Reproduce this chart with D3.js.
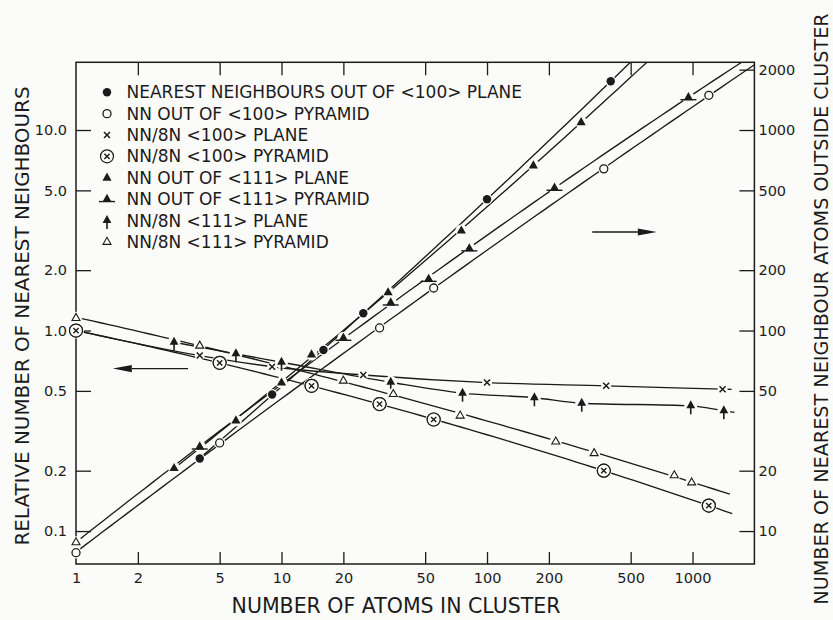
<!DOCTYPE html>
<html><head><meta charset="utf-8">
<script src="https://cdn.jsdelivr.net/npm/d3@7"></script>
<style>
html,body{margin:0;padding:0;background:#fbfbfa;}
svg{display:block;font-family:"DejaVu Sans",sans-serif;}
</style></head><body>
<svg id="chart" width="833" height="620"></svg>
<script>
// ---------- data ----------
const xTickValues = [1, 2, 5, 10, 20, 50, 100, 200, 500, 1000];
const leftTickValues = [0.1, 0.2, 0.5, 1, 2, 5, 10];
const rightTickValues = [10, 20, 50, 100, 200, 500, 1000, 2000];

// right axis: number of nearest-neighbour atoms outside cluster
const out100PlaneN = [4, 9, 16, 25, 100, 400];
const out100PlaneV = [23, 48, 80, 122, 452, 1750];
const out100PyrN   = [1, 5, 30, 55, 370, 1200];
const out100PyrV   = [7.8, 27.5, 103, 163, 640, 1490];
const out111PlaneN = [3, 6, 10, 14, 33, 75, 168, 287];
const out111PlaneV = [20.6, 35.6, 55, 76, 155, 315, 665, 1094];
const out111PyrN   = [1, 4, 20, 34, 52, 82, 213, 955];
const out111PyrV   = [8.8, 26.4, 92, 138, 181, 257, 515, 1458];
// left axis: relative number of nearest neighbours (NN/8N)
const rel100PlaneN = [1, 4, 9, 25, 100, 380, 1400];
const rel100PlaneV = [1.0, 0.75, 0.66, 0.60, 0.55, 0.53, 0.51];
const rel100PyrN   = [1, 5, 14, 30, 55, 370, 1200];
const rel100PyrV   = [1.0, 0.69, 0.53, 0.43, 0.36, 0.20, 0.134];
const rel111PlaneN = [3, 6, 10, 34, 76, 170, 289, 980, 1420];
const rel111PlaneV = [0.874, 0.765, 0.695, 0.552, 0.487, 0.462, 0.434, 0.421, 0.398];
const rel111PyrN   = [1, 4, 20, 35, 74, 216, 332, 815, 990];
const rel111PyrV   = [1.157, 0.842, 0.563, 0.483, 0.377, 0.28, 0.245, 0.19, 0.175];

// extent (in cluster size) over which each curve is drawn, and how it is traced
const lineStart = [4, 1, 1, 1, 3, 1, 3, 1];
const lineEnd   = [2000, 2000, 1550, 1560, 2000, 2000, 1600, 1520];
const lineFit   = ["quad", "quad", "mono", "quad", "quad", "quad", "mono", "quad"];

const labels = [
  "NEAREST NEIGHBOURS OUT OF <100> PLANE",
  "NN OUT OF <100> PYRAMID",
  "NN/8N <100> PLANE",
  "NN/8N <100> PYRAMID",
  "NN OUT OF <111> PLANE",
  "NN OUT OF <111> PYRAMID",
  "NN/8N <111> PLANE",
  "NN/8N <111> PYRAMID"
];
const markers = ["dot", "circle", "cross", "otimes", "tri", "triBar", "triStem", "triOpen"];
const axes = ["right", "right", "left", "left", "right", "right", "left", "left"];
const seriesN = [out100PlaneN, out100PyrN, rel100PlaneN, rel100PyrN, out111PlaneN, out111PyrN, rel111PlaneN, rel111PyrN];
const seriesV = [out100PlaneV, out100PyrV, rel100PlaneV, rel100PyrV, out111PlaneV, out111PyrV, rel111PlaneV, rel111PyrV];
// the first point of the <111> pyramid curve is drawn as an open triangle
const firstMarker = [null, null, null, null, null, "triOpen", null, null];

const leftArrow = {v: 0.646, from: 3.51, to: 1.51};
const rightArrow = {v: 3.1, from: 325, to: 670};

// ---------- layout ----------
const W = 833, H = 620;
const L = 76, R = 754.4, T = 62.3, B = 564;
const INK = "#1b1b1b", BG = "#fbfbfa";

const svg = d3.select("#chart");
svg.append("rect").attr("width", W).attr("height", H).attr("fill", BG);

const x = d3.scaleLog().domain([1, 2000]).range([L, R]);
const y = d3.scaleLog().domain([0.0685, 21.76]).range([B, T]);
const yR = d3.scaleLog().domain([6.85, 2176]).range([B, T]);

svg.append("clipPath").attr("id", "plotclip")
  .append("rect").attr("x", L).attr("y", T).attr("width", R - L).attr("height", B - T);

// ---------- axes ----------
const axFont = "14.5px";
const gB = svg.append("g").attr("transform", `translate(0,${B})`)
  .call(d3.axisBottom(x).tickValues(xTickValues).tickFormat(d3.format("d")).tickSize(-12).tickPadding(9));
const gT = svg.append("g").attr("transform", `translate(0,${T})`)
  .call(d3.axisTop(x).tickValues(xTickValues.slice(1)).tickFormat("").tickSize(-13));
const gL = svg.append("g").attr("transform", `translate(${L},0)`)
  .call(d3.axisLeft(y).tickValues(leftTickValues).tickFormat(d3.format(".1f")).tickSize(-15).tickPadding(9));
const gR = svg.append("g").attr("transform", `translate(${R},0)`)
  .call(d3.axisRight(yR).tickValues(rightTickValues).tickFormat(d3.format("d")).tickSize(-15).tickPadding(4));
[gB, gT, gL, gR].forEach(g => {
  g.select(".domain").remove();
  g.selectAll(".tick line").attr("stroke", INK).attr("stroke-width", 1.3);
  g.selectAll(".tick text").attr("fill", INK).style("font-size", axFont).style("font-family", "DejaVu Sans");
});
gB.selectAll(".tick").filter(d => d === 1).select("line").remove();

svg.append("rect").attr("x", L).attr("y", T).attr("width", R - L).attr("height", B - T)
  .attr("fill", "none").attr("stroke", INK).attr("stroke-width", 1.5);

// axis titles
svg.append("text").attr("x", 396).attr("y", 613).attr("text-anchor", "middle")
  .style("font-size", "20.5px").attr("fill", INK).text("NUMBER OF ATOMS IN CLUSTER");
svg.append("text").attr("transform", "translate(22,316) rotate(-90)").attr("text-anchor", "middle")
  .attr("dy", "0.35em").style("font-size", "19.9px").attr("fill", INK).text("RELATIVE NUMBER OF NEAREST NEIGHBOURS");
svg.append("text").attr("transform", "translate(821,309) rotate(-90)").attr("text-anchor", "middle")
  .attr("dy", "0.35em").style("font-size", "19.2px").attr("fill", INK).text("NUMBER OF NEAREST NEIGHBOUR ATOMS OUTSIDE CLUSTER");

// ---------- curves ----------
function extend(pts, a, b) {
  const out = pts.slice();
  if (a < pts[0].n) {
    const p0 = pts[0], p1 = pts[1];
    const s = Math.log(p1.v / p0.v) / Math.log(p1.n / p0.n);
    out.unshift({n: a, v: p0.v * Math.pow(a / p0.n, s)});
  }
  const k = pts.length;
  if (b > pts[k - 1].n) {
    const p0 = pts[k - 2], p1 = pts[k - 1];
    const s = Math.log(p1.v / p0.v) / Math.log(p1.n / p0.n);
    out.push({n: b, v: p1.v * Math.pow(b / p1.n, s)});
  }
  return out;
}
// least-squares quadratic in log-log space
function quadFit(pts) {
  const X = pts.map(p => Math.log10(p.n)), Y = pts.map(p => Math.log10(p.v));
  const S = k => d3.sum(X, v => Math.pow(v, k));
  const Tk = k => d3.sum(X, (v, i) => Math.pow(v, k) * Y[i]);
  const A = [[S(0), S(1), S(2)], [S(1), S(2), S(3)], [S(2), S(3), S(4)]];
  const bb = [Tk(0), Tk(1), Tk(2)];
  const det = m => m[0][0]*(m[1][1]*m[2][2]-m[1][2]*m[2][1]) - m[0][1]*(m[1][0]*m[2][2]-m[1][2]*m[2][0]) + m[0][2]*(m[1][0]*m[2][1]-m[1][1]*m[2][0]);
  const D = det(A);
  const c = [0, 1, 2].map(j => det(A.map((row, i) => row.map((v, k) => k === j ? bb[i] : v))) / D);
  return n => { const t = Math.log10(n); return Math.pow(10, c[0] + c[1] * t + c[2] * t * t); };
}

const series = seriesN.map((ns, i) => ({
  pts: ns.map((n, j) => ({n, v: seriesV[i][j]})),
  ys: axes[i] === "right" ? yR : y,
  marker: markers[i], label: labels[i], first: firstMarker[i],
  start: lineStart[i], end: lineEnd[i], fit: lineFit[i]
}));

const gLines = svg.append("g").attr("clip-path", "url(#plotclip)");
series.forEach(s => {
  let path;
  if (s.fit === "quad") {
    const f = quadFit(s.pts);
    const ns = d3.range(0, 81).map(k => Math.pow(10, Math.log10(s.start) + k / 80 * (Math.log10(s.end) - Math.log10(s.start))));
    path = d3.line().x(d => x(d.n)).y(d => s.ys(d.v))(ns.map(n => ({n, v: f(n)})));
  } else {
    path = d3.line().x(d => x(d.n)).y(d => s.ys(d.v)).curve(d3.curveMonotoneX)(extend(s.pts, s.start, s.end));
  }
  gLines.append("path").attr("d", path)
    .attr("fill", "none").attr("stroke", INK).attr("stroke-width", 1.35);
});

// ---------- markers ----------
const haloR = {dot: 5.5, circle: 5.8, cross: 5, otimes: 8, tri: 6, triBar: 6, triStem: 6.5, triOpen: 6};
function drawMarker(g, type, cx, cy, halo) {
  const m = g.append("g").attr("transform", `translate(${cx},${cy})`);
  if (halo) m.append("circle").attr("r", haloR[type]).attr("fill", BG);
  const tri = "M0,-5.2L4.6,3L-4.6,3Z";
  switch (type) {
    case "dot": m.append("circle").attr("r", 4.2).attr("fill", INK); break;
    case "circle": m.append("circle").attr("r", 4).attr("fill", BG).attr("stroke", INK).attr("stroke-width", 1.3); break;
    case "cross":
      m.append("path").attr("d", "M-3,-3L3,3M-3,3L3,-3").attr("stroke", INK).attr("stroke-width", 1.5); break;
    case "otimes":
      m.append("circle").attr("r", 6.5).attr("fill", BG).attr("stroke", INK).attr("stroke-width", 1.2);
      m.append("path").attr("d", "M-2.6,-2.6L2.6,2.6M-2.6,2.6L2.6,-2.6").attr("stroke", INK).attr("stroke-width", 1.4); break;
    case "tri": m.append("path").attr("d", tri).attr("fill", INK); break;
    case "triBar":
      m.append("path").attr("d", tri).attr("fill", INK);
      m.append("path").attr("d", "M-8,2.5L8,2.5").attr("stroke", INK).attr("stroke-width", 1.4); break;
    case "triStem":
      m.append("path").attr("d", "M0,-5.5L4.4,2.5L-4.4,2.5Z").attr("fill", INK);
      m.append("path").attr("d", "M0,-2L0,8.5").attr("stroke", INK).attr("stroke-width", 1.6); break;
    case "triOpen":
      m.append("path").attr("d", "M0,-4.4L4,2.6L-4,2.6Z").attr("fill", BG).attr("stroke", INK).attr("stroke-width", 1.1); break;
  }
}
const gMarks = svg.append("g");
series.forEach(s => {
  s.pts.forEach((p, j) => {
    const type = (j === 0 && s.first) ? s.first : s.marker;
    drawMarker(gMarks, type, x(p.n), s.ys(p.v), true);
  });
});
// keep ⊗ symbols above neighbouring halos
series.filter(s => s.marker === "otimes").forEach(s => {
  s.pts.forEach(p => drawMarker(gMarks, "otimes", x(p.n), s.ys(p.v), false));
});

// ---------- legend ----------
const gLeg = svg.append("g");
labels.forEach((lab, i) => {
  const cy = 92.3 + i * 21.35;
  drawMarker(gLeg, markers[i], 107, cy, false);
  gLeg.append("text").attr("x", 126.5).attr("y", cy).attr("dy", "0.36em")
    .style("font-size", "17px").attr("fill", INK).text(lab);
});

// ---------- arrows ----------
function arrow(a, ys) {
  const yy = ys(a.v), x0 = x(a.from), x1 = x(a.to);
  const dir = Math.sign(x1 - x0), headL = 19, headH = 3.6;
  svg.append("line").attr("x1", x0).attr("y1", yy).attr("x2", x1 - dir * headL).attr("y2", yy)
    .attr("stroke", INK).attr("stroke-width", 1.4);
  svg.append("path")
    .attr("d", `M${x1},${yy}L${x1 - dir * headL},${yy - headH}L${x1 - dir * headL},${yy + headH}Z`)
    .attr("fill", INK);
}
arrow(leftArrow, y);
arrow(rightArrow, y);
</script>
</body></html>
